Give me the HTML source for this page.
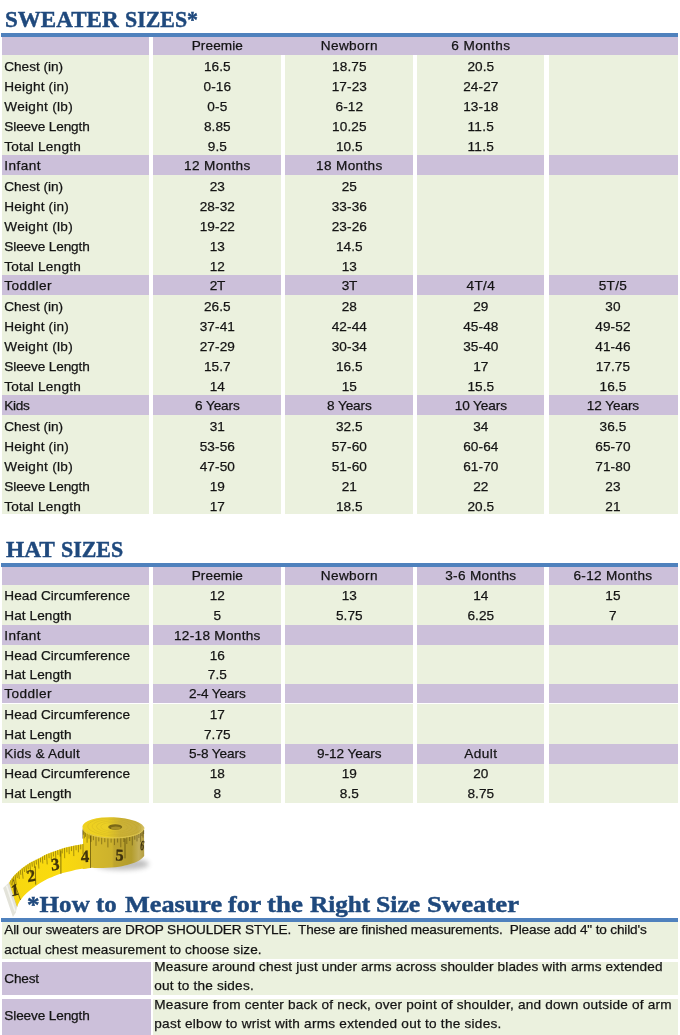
<!DOCTYPE html>
<html><head><meta charset="utf-8"><title>Size chart</title>
<style>
html,body{margin:0;padding:0;background:#fff}
#w{position:absolute;left:0;top:0;width:680px;height:1035px;overflow:hidden;will-change:transform;opacity:.999}
body{width:680px;height:1035px;position:relative;overflow:hidden;font-family:"Liberation Sans",sans-serif;font-size:13.6px;color:#141414;-webkit-text-stroke:0.25px #141414}
.r{position:absolute;left:1.5px;width:676.9px}
.c{position:absolute;text-align:center;white-space:nowrap;margin-left:-1.5px;line-height:16px;height:16px}
.c.l{text-align:left;text-indent:2.8px}
.g{position:absolute;background:#fff}
.bl{position:absolute;background:#4f81bd}
.t{position:absolute;font-family:"Liberation Serif",serif;font-weight:bold;color:#1f497d;-webkit-text-stroke:0.45px #1f497d;white-space:nowrap;line-height:26px;height:26px;transform-origin:0 0}
.p{position:absolute;white-space:nowrap;line-height:16px;height:16px}
</style></head><body><div id="w">
<div id="t1">
<span class="t" style="left:5.22px;top:5.9px;font-size:23.8px;transform:scale(0.9684,1)">SWEATER</span>
<span class="t" style="left:124.95px;top:5.9px;font-size:23.8px;transform:scale(0.9197,1)">SIZES*</span>
</div>
<div class="bl" style="left:1px;top:33px;width:677.4px;height:4px"></div>
<div class="r" style="top:37px;height:18px;background:#ccc0da">
</div>
<div class="r" style="top:55px;height:20px;background:#ebf1de">
<span class="c l" style="left:1.5px;width:147px;top:3.6px;letter-spacing:-0.03px">Chest (in)</span>
<span class="c" style="left:153.1px;width:128.5px;top:3.6px;letter-spacing:0.098px">16.5</span>
<span class="c" style="left:285.6px;width:127.5px;top:3.6px;letter-spacing:0.101px">18.75</span>
<span class="c" style="left:417.1px;width:127.5px;top:3.6px;letter-spacing:0.098px">20.5</span>
</div>
<div class="r" style="top:75px;height:20px;background:#ebf1de">
<span class="c l" style="left:1.5px;width:147px;top:3.6px;letter-spacing:0.177px">Height (in)</span>
<span class="c" style="left:153.1px;width:128.5px;top:3.6px;letter-spacing:0.114px">0-16</span>
<span class="c" style="left:285.6px;width:127.5px;top:3.6px;letter-spacing:0.114px">17-23</span>
<span class="c" style="left:417.1px;width:127.5px;top:3.6px;letter-spacing:0.114px">24-27</span>
</div>
<div class="r" style="top:95px;height:20px;background:#ebf1de">
<span class="c l" style="left:1.5px;width:147px;top:3.6px;letter-spacing:0.293px">Weight (lb)</span>
<span class="c" style="left:153.1px;width:128.5px;top:3.6px;letter-spacing:0.113px">0-5</span>
<span class="c" style="left:285.6px;width:127.5px;top:3.6px;letter-spacing:0.114px">6-12</span>
<span class="c" style="left:417.1px;width:127.5px;top:3.6px;letter-spacing:0.114px">13-18</span>
</div>
<div class="r" style="top:115px;height:20px;background:#ebf1de">
<span class="c l" style="left:1.5px;width:147px;top:3.6px;letter-spacing:-0.121px">Sleeve Length</span>
<span class="c" style="left:153.1px;width:128.5px;top:3.6px;letter-spacing:0.098px">8.85</span>
<span class="c" style="left:285.6px;width:127.5px;top:3.6px;letter-spacing:0.101px">10.25</span>
<span class="c" style="left:417.1px;width:127.5px;top:3.6px;letter-spacing:0.352px">11.5</span>
</div>
<div class="r" style="top:135px;height:20px;background:#ebf1de">
<span class="c l" style="left:1.5px;width:147px;top:3.6px;letter-spacing:0.213px">Total Length</span>
<span class="c" style="left:153.1px;width:128.5px;top:3.6px;letter-spacing:0.092px">9.5</span>
<span class="c" style="left:285.6px;width:127.5px;top:3.6px;letter-spacing:0.098px">10.5</span>
<span class="c" style="left:417.1px;width:127.5px;top:3.6px;letter-spacing:0.352px">11.5</span>
</div>
<div class="r" style="top:155px;height:20px;background:#ccc0da">
<span class="c l" style="left:1.5px;width:147px;top:2.8px;letter-spacing:0.446px">Infant</span>
<span class="c" style="left:153.1px;width:128.5px;top:2.8px;letter-spacing:0.351px">12 Months</span>
<span class="c" style="left:285.6px;width:127.5px;top:2.8px;letter-spacing:0.351px">18 Months</span>
</div>
<div class="r" style="top:175px;height:20px;background:#ebf1de">
<span class="c l" style="left:1.5px;width:147px;top:3.6px;letter-spacing:-0.03px">Chest (in)</span>
<span class="c" style="left:153.1px;width:128.5px;top:3.6px;letter-spacing:0.116px">23</span>
<span class="c" style="left:285.6px;width:127.5px;top:3.6px;letter-spacing:0.116px">25</span>
</div>
<div class="r" style="top:195px;height:20px;background:#ebf1de">
<span class="c l" style="left:1.5px;width:147px;top:3.6px;letter-spacing:0.177px">Height (in)</span>
<span class="c" style="left:153.1px;width:128.5px;top:3.6px;letter-spacing:0.114px">28-32</span>
<span class="c" style="left:285.6px;width:127.5px;top:3.6px;letter-spacing:0.114px">33-36</span>
</div>
<div class="r" style="top:215px;height:20px;background:#ebf1de">
<span class="c l" style="left:1.5px;width:147px;top:3.6px;letter-spacing:0.293px">Weight (lb)</span>
<span class="c" style="left:153.1px;width:128.5px;top:3.6px;letter-spacing:0.114px">19-22</span>
<span class="c" style="left:285.6px;width:127.5px;top:3.6px;letter-spacing:0.114px">23-26</span>
</div>
<div class="r" style="top:235px;height:20px;background:#ebf1de">
<span class="c l" style="left:1.5px;width:147px;top:3.6px;letter-spacing:-0.121px">Sleeve Length</span>
<span class="c" style="left:153.1px;width:128.5px;top:3.6px;letter-spacing:0.116px">13</span>
<span class="c" style="left:285.6px;width:127.5px;top:3.6px;letter-spacing:0.098px">14.5</span>
</div>
<div class="r" style="top:255px;height:20px;background:#ebf1de">
<span class="c l" style="left:1.5px;width:147px;top:3.6px;letter-spacing:0.213px">Total Length</span>
<span class="c" style="left:153.1px;width:128.5px;top:3.6px;letter-spacing:0.116px">12</span>
<span class="c" style="left:285.6px;width:127.5px;top:3.6px;letter-spacing:0.116px">13</span>
</div>
<div class="r" style="top:275px;height:20px;background:#ccc0da">
<span class="c l" style="left:1.5px;width:147px;top:2.8px;letter-spacing:0.428px">Toddler</span>
<span class="c" style="left:153.1px;width:128.5px;top:2.8px;letter-spacing:-0.407px">2T</span>
<span class="c" style="left:285.6px;width:127.5px;top:2.8px;letter-spacing:-0.407px">3T</span>
<span class="c" style="left:417.1px;width:127.5px;top:2.8px;letter-spacing:0.347px">4T/4</span>
<span class="c" style="left:548px;width:129.9px;top:2.8px;letter-spacing:0.347px">5T/5</span>
</div>
<div class="r" style="top:295px;height:20px;background:#ebf1de">
<span class="c l" style="left:1.5px;width:147px;top:3.6px;letter-spacing:-0.03px">Chest (in)</span>
<span class="c" style="left:153.1px;width:128.5px;top:3.6px;letter-spacing:0.098px">26.5</span>
<span class="c" style="left:285.6px;width:127.5px;top:3.6px;letter-spacing:0.116px">28</span>
<span class="c" style="left:417.1px;width:127.5px;top:3.6px;letter-spacing:0.116px">29</span>
<span class="c" style="left:548px;width:129.9px;top:3.6px;letter-spacing:0.116px">30</span>
</div>
<div class="r" style="top:315px;height:20px;background:#ebf1de">
<span class="c l" style="left:1.5px;width:147px;top:3.6px;letter-spacing:0.177px">Height (in)</span>
<span class="c" style="left:153.1px;width:128.5px;top:3.6px;letter-spacing:0.114px">37-41</span>
<span class="c" style="left:285.6px;width:127.5px;top:3.6px;letter-spacing:0.114px">42-44</span>
<span class="c" style="left:417.1px;width:127.5px;top:3.6px;letter-spacing:0.114px">45-48</span>
<span class="c" style="left:548px;width:129.9px;top:3.6px;letter-spacing:0.114px">49-52</span>
</div>
<div class="r" style="top:335px;height:20px;background:#ebf1de">
<span class="c l" style="left:1.5px;width:147px;top:3.6px;letter-spacing:0.293px">Weight (lb)</span>
<span class="c" style="left:153.1px;width:128.5px;top:3.6px;letter-spacing:0.114px">27-29</span>
<span class="c" style="left:285.6px;width:127.5px;top:3.6px;letter-spacing:0.114px">30-34</span>
<span class="c" style="left:417.1px;width:127.5px;top:3.6px;letter-spacing:0.114px">35-40</span>
<span class="c" style="left:548px;width:129.9px;top:3.6px;letter-spacing:0.114px">41-46</span>
</div>
<div class="r" style="top:355px;height:20px;background:#ebf1de">
<span class="c l" style="left:1.5px;width:147px;top:3.6px;letter-spacing:-0.121px">Sleeve Length</span>
<span class="c" style="left:153.1px;width:128.5px;top:3.6px;letter-spacing:0.098px">15.7</span>
<span class="c" style="left:285.6px;width:127.5px;top:3.6px;letter-spacing:0.098px">16.5</span>
<span class="c" style="left:417.1px;width:127.5px;top:3.6px;letter-spacing:0.116px">17</span>
<span class="c" style="left:548px;width:129.9px;top:3.6px;letter-spacing:0.101px">17.75</span>
</div>
<div class="r" style="top:375px;height:20px;background:#ebf1de">
<span class="c l" style="left:1.5px;width:147px;top:3.6px;letter-spacing:0.213px">Total Length</span>
<span class="c" style="left:153.1px;width:128.5px;top:3.6px;letter-spacing:0.116px">14</span>
<span class="c" style="left:285.6px;width:127.5px;top:3.6px;letter-spacing:0.116px">15</span>
<span class="c" style="left:417.1px;width:127.5px;top:3.6px;letter-spacing:0.098px">15.5</span>
<span class="c" style="left:548px;width:129.9px;top:3.6px;letter-spacing:0.098px">16.5</span>
</div>
<div class="r" style="top:395px;height:20px;background:#ccc0da">
<span class="c l" style="left:1.5px;width:147px;top:2.8px;letter-spacing:-0.305px">Kids</span>
<span class="c" style="left:153.1px;width:128.5px;top:2.8px;letter-spacing:-0.124px">6 Years</span>
<span class="c" style="left:285.6px;width:127.5px;top:2.8px;letter-spacing:-0.124px">8 Years</span>
<span class="c" style="left:417.1px;width:127.5px;top:2.8px;letter-spacing:-0.094px">10 Years</span>
<span class="c" style="left:548px;width:129.9px;top:2.8px;letter-spacing:-0.094px">12 Years</span>
</div>
<div class="r" style="top:415px;height:20px;background:#ebf1de">
<span class="c l" style="left:1.5px;width:147px;top:3.6px;letter-spacing:-0.03px">Chest (in)</span>
<span class="c" style="left:153.1px;width:128.5px;top:3.6px;letter-spacing:0.116px">31</span>
<span class="c" style="left:285.6px;width:127.5px;top:3.6px;letter-spacing:0.098px">32.5</span>
<span class="c" style="left:417.1px;width:127.5px;top:3.6px;letter-spacing:0.116px">34</span>
<span class="c" style="left:548px;width:129.9px;top:3.6px;letter-spacing:0.098px">36.5</span>
</div>
<div class="r" style="top:435px;height:20px;background:#ebf1de">
<span class="c l" style="left:1.5px;width:147px;top:3.6px;letter-spacing:0.177px">Height (in)</span>
<span class="c" style="left:153.1px;width:128.5px;top:3.6px;letter-spacing:0.114px">53-56</span>
<span class="c" style="left:285.6px;width:127.5px;top:3.6px;letter-spacing:0.114px">57-60</span>
<span class="c" style="left:417.1px;width:127.5px;top:3.6px;letter-spacing:0.114px">60-64</span>
<span class="c" style="left:548px;width:129.9px;top:3.6px;letter-spacing:0.114px">65-70</span>
</div>
<div class="r" style="top:455px;height:20px;background:#ebf1de">
<span class="c l" style="left:1.5px;width:147px;top:3.6px;letter-spacing:0.293px">Weight (lb)</span>
<span class="c" style="left:153.1px;width:128.5px;top:3.6px;letter-spacing:0.114px">47-50</span>
<span class="c" style="left:285.6px;width:127.5px;top:3.6px;letter-spacing:0.114px">51-60</span>
<span class="c" style="left:417.1px;width:127.5px;top:3.6px;letter-spacing:0.114px">61-70</span>
<span class="c" style="left:548px;width:129.9px;top:3.6px;letter-spacing:0.114px">71-80</span>
</div>
<div class="r" style="top:475px;height:20px;background:#ebf1de">
<span class="c l" style="left:1.5px;width:147px;top:3.6px;letter-spacing:-0.121px">Sleeve Length</span>
<span class="c" style="left:153.1px;width:128.5px;top:3.6px;letter-spacing:0.116px">19</span>
<span class="c" style="left:285.6px;width:127.5px;top:3.6px;letter-spacing:0.116px">21</span>
<span class="c" style="left:417.1px;width:127.5px;top:3.6px;letter-spacing:0.116px">22</span>
<span class="c" style="left:548px;width:129.9px;top:3.6px;letter-spacing:0.116px">23</span>
</div>
<div class="r" style="top:495px;height:19px;background:#ebf1de">
<span class="c l" style="left:1.5px;width:147px;top:3.6px;letter-spacing:0.213px">Total Length</span>
<span class="c" style="left:153.1px;width:128.5px;top:3.6px;letter-spacing:0.116px">17</span>
<span class="c" style="left:285.6px;width:127.5px;top:3.6px;letter-spacing:0.098px">18.5</span>
<span class="c" style="left:417.1px;width:127.5px;top:3.6px;letter-spacing:0.098px">20.5</span>
<span class="c" style="left:548px;width:129.9px;top:3.6px;letter-spacing:0.116px">21</span>
</div>
<div class="g" style="left:148.5px;width:4px;top:37px;height:477px"></div>
<div class="g" style="left:281px;width:4px;top:37px;height:477px"></div>
<div class="g" style="left:412.5px;width:4px;top:37px;height:477px"></div>
<div class="g" style="left:544px;width:4.5px;top:37px;height:477px"></div>
<div class="r" style="top:37px;height:18px;left:152.5px;width:525.9px;background:#ccc0da"></div>
<div class="r" style="top:37px;height:18px;background:none">
<span class="c" style="left:153.1px;width:128.5px;top:0.8px;letter-spacing:0.097px">Preemie</span>
<span class="c" style="left:285.6px;width:127.5px;top:0.8px;letter-spacing:0.419px">Newborn</span>
<span class="c" style="left:417.1px;width:127.5px;top:0.8px;letter-spacing:0.38px">6 Months</span>
</div>
<div id="t2">
<span class="t" style="left:6.21px;top:535.9px;font-size:23.8px;transform:scale(0.9812,1)">HAT</span>
<span class="t" style="left:60.95px;top:535.9px;font-size:23.8px;transform:scale(0.9218,1)">SIZES</span>
</div>
<div class="bl" style="left:1px;top:563px;width:677.4px;height:4px"></div>
<div class="r" style="top:566.7px;height:18.6px;background:#ccc0da">
<span class="c" style="left:153.1px;width:128.5px;top:1.4px;letter-spacing:0.097px">Preemie</span>
<span class="c" style="left:285.6px;width:127.5px;top:1.4px;letter-spacing:0.419px">Newborn</span>
<span class="c" style="left:417.1px;width:127.5px;top:1.4px;letter-spacing:0.327px">3-6 Months</span>
<span class="c" style="left:548px;width:129.9px;top:1.4px;letter-spacing:0.309px">6-12 Months</span>
</div>
<div class="r" style="top:585.3px;height:20px;background:#ebf1de">
<span class="c l" style="left:1.5px;width:147px;top:2.8px;letter-spacing:0.063px">Head Circumference</span>
<span class="c" style="left:153.1px;width:128.5px;top:2.8px;letter-spacing:0.116px">12</span>
<span class="c" style="left:285.6px;width:127.5px;top:2.8px;letter-spacing:0.116px">13</span>
<span class="c" style="left:417.1px;width:127.5px;top:2.8px;letter-spacing:0.116px">14</span>
<span class="c" style="left:548px;width:129.9px;top:2.8px;letter-spacing:0.116px">15</span>
</div>
<div class="r" style="top:605.3px;height:20.1px;background:#ebf1de">
<span class="c l" style="left:1.5px;width:147px;top:2.9px;letter-spacing:0.071px">Hat Length</span>
<span class="c" style="left:153.1px;width:128.5px;top:2.9px;letter-spacing:0.116px">5</span>
<span class="c" style="left:285.6px;width:127.5px;top:2.9px;letter-spacing:0.098px">5.75</span>
<span class="c" style="left:417.1px;width:127.5px;top:2.9px;letter-spacing:0.098px">6.25</span>
<span class="c" style="left:548px;width:129.9px;top:2.9px;letter-spacing:0.116px">7</span>
</div>
<div class="r" style="top:625.4px;height:19.6px;background:#ccc0da">
<span class="c l" style="left:1.5px;width:147px;top:2.4px;letter-spacing:0.446px">Infant</span>
<span class="c" style="left:153.1px;width:128.5px;top:2.4px;letter-spacing:0.293px">12-18 Months</span>
</div>
<div class="r" style="top:645px;height:19.7px;background:#ebf1de">
<span class="c l" style="left:1.5px;width:147px;top:2.5px;letter-spacing:0.063px">Head Circumference</span>
<span class="c" style="left:153.1px;width:128.5px;top:2.5px;letter-spacing:0.116px">16</span>
</div>
<div class="r" style="top:664.7px;height:19.7px;background:#ebf1de">
<span class="c l" style="left:1.5px;width:147px;top:2.5px;letter-spacing:0.071px">Hat Length</span>
<span class="c" style="left:153.1px;width:128.5px;top:2.5px;letter-spacing:0.092px">7.5</span>
</div>
<div class="r" style="top:684.4px;height:19.1px;background:#ccc0da">
<span class="c l" style="left:1.5px;width:147px;top:1.9px;letter-spacing:0.428px">Toddler</span>
<span class="c" style="left:153.1px;width:128.5px;top:1.9px;letter-spacing:-0.072px">2-4 Years</span>
</div>
<div class="r" style="top:703.5px;height:20.2px;background:#ebf1de">
<span class="c l" style="left:1.5px;width:147px;top:3px;letter-spacing:0.063px">Head Circumference</span>
<span class="c" style="left:153.1px;width:128.5px;top:3px;letter-spacing:0.116px">17</span>
</div>
<div class="r" style="top:723.7px;height:20.3px;background:#ebf1de">
<span class="c l" style="left:1.5px;width:147px;top:3.1px;letter-spacing:0.071px">Hat Length</span>
<span class="c" style="left:153.1px;width:128.5px;top:3.1px;letter-spacing:0.098px">7.75</span>
</div>
<div class="r" style="top:744px;height:19.5px;background:#ccc0da">
<span class="c l" style="left:1.5px;width:147px;top:2.3px;letter-spacing:0.195px">Kids &amp; Adult</span>
<span class="c" style="left:153.1px;width:128.5px;top:2.3px;letter-spacing:-0.072px">5-8 Years</span>
<span class="c" style="left:285.6px;width:127.5px;top:2.3px;letter-spacing:-0.053px">9-12 Years</span>
<span class="c" style="left:417.1px;width:127.5px;top:2.3px;letter-spacing:0.45px">Adult</span>
</div>
<div class="r" style="top:763.5px;height:19.8px;background:#ebf1de">
<span class="c l" style="left:1.5px;width:147px;top:2.6px;letter-spacing:0.063px">Head Circumference</span>
<span class="c" style="left:153.1px;width:128.5px;top:2.6px;letter-spacing:0.116px">18</span>
<span class="c" style="left:285.6px;width:127.5px;top:2.6px;letter-spacing:0.116px">19</span>
<span class="c" style="left:417.1px;width:127.5px;top:2.6px;letter-spacing:0.116px">20</span>
</div>
<div class="r" style="top:783.3px;height:19.9px;background:#ebf1de">
<span class="c l" style="left:1.5px;width:147px;top:2.7px;letter-spacing:0.071px">Hat Length</span>
<span class="c" style="left:153.1px;width:128.5px;top:2.7px;letter-spacing:0.116px">8</span>
<span class="c" style="left:285.6px;width:127.5px;top:2.7px;letter-spacing:0.092px">8.5</span>
<span class="c" style="left:417.1px;width:127.5px;top:2.7px;letter-spacing:0.098px">8.75</span>
</div>
<div class="g" style="left:148.5px;width:4px;top:566.7px;height:236.5px"></div>
<div class="g" style="left:281px;width:4px;top:566.7px;height:236.5px"></div>
<div class="g" style="left:412.5px;width:4px;top:566.7px;height:236.5px"></div>
<div class="g" style="left:544px;width:4.5px;top:566.7px;height:236.5px"></div>
<svg style="position:absolute;left:0;top:805px" width="170" height="120" viewBox="0 805 170 120">
<defs><linearGradient id="gs" x1="0" y1="0" x2="1" y2="0"><stop offset="0" stop-color="#f7d710"/><stop offset=".6" stop-color="#fadb0e"/><stop offset="1" stop-color="#f2d016"/></linearGradient><linearGradient id="gf" gradientUnits="userSpaceOnUse" x1="83" y1="0" x2="145" y2="0"><stop offset="0" stop-color="#d8bc2c"/><stop offset=".47" stop-color="#cdb22c"/><stop offset=".5" stop-color="#bfa52d"/><stop offset=".78" stop-color="#b39d2d"/><stop offset=".9" stop-color="#c4b05a"/><stop offset="1" stop-color="#b09a3c"/></linearGradient><linearGradient id="gt" x1="0" y1="0" x2="1" y2="0"><stop offset="0" stop-color="#f0d21e"/><stop offset=".4" stop-color="#ebcf25"/><stop offset=".62" stop-color="#cdb236"/><stop offset=".9" stop-color="#c6ad3c"/><stop offset="1" stop-color="#d2bf6a"/></linearGradient><filter id="bl" x="-30%" y="-60%" width="160%" height="220%"><feGaussianBlur stdDeviation="2.6"/></filter></defs>
<ellipse cx="122" cy="864" rx="27" ry="6" fill="#8a8a8a" fill-opacity=".55" filter="url(#bl)"/>
<path d="M3.1,888 L9.3,882.2 L17.2,906.5 L15.8,912.5 L12.9,917 Z" fill="#e3e3da"/>
<path d="M6.5,885.5 L15.2,911.5" stroke="#f4f4ee" stroke-width="1.6" fill="none"/>
<path d="M9.3,882.2 L17.2,906.5" stroke="#cbb64a" stroke-width=".8" fill="none"/>
<path d="M9.3,882.2C10.1,881.1 12.1,877.8 14.1,875.6C16.1,873.4 18.6,871.1 21.2,869.0C23.8,866.9 26.9,864.6 30.0,862.8C33.1,860.9 37.2,859.2 39.7,857.9C42.2,856.6 42.6,856.0 45.0,854.9C47.4,853.8 50.9,852.6 53.8,851.5C56.7,850.4 59.6,849.3 62.6,848.4C65.5,847.5 68.1,846.9 71.5,846.2C74.9,845.5 81.1,844.4 83.0,844.0L90.9,867.8C89.1,868.0 83.5,868.6 80.3,869.1C77.1,869.6 74.5,870.2 71.5,870.9C68.5,871.6 65.5,872.2 62.6,873.1C59.6,874.0 56.7,875.0 53.8,876.2C50.9,877.4 48.1,878.5 45.0,880.2C41.9,881.9 38.4,884.0 35.3,886.2C32.2,888.4 29.0,890.9 26.5,893.2C24.0,895.6 21.9,898.1 20.3,900.3C18.8,902.5 17.7,905.5 17.2,906.5Z" fill="url(#gs)"/>
<path d="M83,827.6 L83,844 L90.9,867.8C92.9,867.8 98.3,868.2 103.0,868.0C107.7,867.8 114.6,867.3 119.0,866.7C123.4,866.1 126.2,865.3 129.5,864.3C132.8,863.3 136.4,862.2 138.8,860.8C141.2,859.4 143.3,856.8 144.2,856.0L144,827.6 A30.9,10.4 0 0 1 83,827.6 Z" fill="url(#gf)"/>
<path d="M83,829 L83,844 L83,869 L90.5,868 L90.5,835.6 Z" fill="#efcf1a"/>
<ellipse cx="113.3" cy="827.6" rx="30.9" ry="10.4" fill="url(#gt)" transform="rotate(2 113.3 827.6)"/>
<ellipse cx="114.3" cy="827.0" rx="26.6" ry="8.9" fill="none" stroke="#b89c22" stroke-opacity="0.35" stroke-width=".7" transform="rotate(2 113.3 827.6)"/>
<ellipse cx="114.3" cy="827.0" rx="22.2" ry="7.5" fill="none" stroke="#b89c22" stroke-opacity="0.3" stroke-width=".7" transform="rotate(2 113.3 827.6)"/>
<ellipse cx="114.3" cy="827.0" rx="17.9" ry="6.0" fill="none" stroke="#b89c22" stroke-opacity="0.3" stroke-width=".7" transform="rotate(2 113.3 827.6)"/>
<ellipse cx="114.3" cy="827.0" rx="13.6" ry="4.6" fill="none" stroke="#b89c22" stroke-opacity="0.25" stroke-width=".7" transform="rotate(2 113.3 827.6)"/>
<ellipse cx="115.2" cy="827" rx="7" ry="2.8" fill="#7a6818"/>
<ellipse cx="115.8" cy="827.9" rx="4.8" ry="1.5" fill="#a89026"/>
<path d="M82.4,827.6 A30.9,10.4 0 0 0 144.2,827.6" fill="none" stroke="#ead35a" stroke-width=".8" stroke-opacity=".8"/>
<path d="M10.7,880.3L11.4,885.3M12.1,878.4L13.0,885.9M13.5,876.5L14.1,881.4M15.1,874.7L16.3,885.2M16.8,873.1L17.3,878.1M18.5,871.5L19.3,878.9M20.3,869.9L20.8,874.8M22.1,868.4L23.1,878.7M24.0,867.0L24.5,871.9M26.0,865.6L26.6,873.0M27.9,864.3L28.3,869.2M29.8,862.9L30.7,873.2M31.9,861.8L32.3,866.7M34.0,860.8L34.6,868.0M36.1,859.7L36.5,864.5M38.3,858.6L38.9,868.6M40.4,857.5L40.6,862.3M42.4,856.4L42.8,863.5M44.5,855.2L44.7,860.0M46.6,854.3L47.2,864.4M48.9,853.4L49.1,858.2M51.1,852.6L51.4,859.7M53.3,851.7L53.5,856.5M55.5,850.9L55.9,861.0M57.7,850.1L57.9,854.9M60.0,849.3L60.2,856.6M62.2,848.5L62.3,853.4M64.5,847.9L64.7,858.2M66.8,847.4L66.9,852.3M69.1,846.8L69.2,854.1M71.4,846.2L71.5,851.1M73.7,845.8L73.8,856.1M76.0,845.3L76.1,850.2M78.4,844.9L78.4,852.3M80.7,844.4L80.7,849.4M83.0,844.0L83.0,854.4" stroke="#5a4a08" stroke-width=".7" stroke-opacity=".75" fill="none"/>
<path d="M82.7,829.6l0,9M83.3,830.7l0,4M84.3,831.8l0,6.5M85.5,832.8l0,4M87.1,833.7l0,9M89.0,834.6l0,4M91.1,835.4l0,6.5M93.4,836.2l0,4M96.0,836.8l0,9M98.8,837.4l0,4M101.7,837.8l0,6.5M104.8,838.2l0,4M107.9,838.4l0,9M111.1,838.6l0,4M114.4,838.6l0,6.5M117.6,838.5l0,4M120.8,838.3l0,9M123.9,838.0l0,4M126.8,837.5l0,6.5M129.7,837.0l0,4M132.3,836.4l0,9M134.8,835.7l0,4M137.0,834.9l0,6.5M138.9,834.0l0,4M140.6,833.1l0,9M141.9,832.1l0,4M143.0,831.1l0,6.5M143.7,830.0l0,4" stroke="#4a3c08" stroke-width=".7" stroke-opacity=".7" fill="none"/>
<path d="M13.2,879.5L20.5,900 M35.3,866.3L35.7,884.6 M60.9,850.6L60.9,873.8 M90.5,835.6L90.5,868 M125,838.6L125,858.4" stroke="#4a3c08" stroke-width=".8" stroke-opacity=".8" fill="none"/>
<text transform="translate(15.2 895.4) rotate(-14) skewX(-10) scale(1 1)" font-family="Liberation Serif,serif" font-weight="bold" font-size="16" text-anchor="middle" fill="#33280a" stroke="#33280a" stroke-width=".3" fill-opacity=".92">1</text>
<text transform="translate(31.8 881.4) rotate(-12) skewX(-4) scale(1 1)" font-family="Liberation Serif,serif" font-weight="bold" font-size="17" text-anchor="middle" fill="#33280a" stroke="#33280a" stroke-width=".3" fill-opacity=".92">2</text>
<text transform="translate(55.6 870) rotate(-8) skewX(-3) scale(1 1)" font-family="Liberation Serif,serif" font-weight="bold" font-size="17" text-anchor="middle" fill="#33280a" stroke="#33280a" stroke-width=".3" fill-opacity=".92">3</text>
<text transform="translate(85.2 862) rotate(-3) skewX(0) scale(1 1)" font-family="Liberation Serif,serif" font-weight="bold" font-size="17" text-anchor="middle" fill="#33280a" stroke="#33280a" stroke-width=".3" fill-opacity=".92">4</text>
<text transform="translate(119.3 860.6) rotate(2) skewX(0) scale(1 1)" font-family="Liberation Serif,serif" font-weight="bold" font-size="16.5" text-anchor="middle" fill="#33280a" stroke="#33280a" stroke-width=".3" fill-opacity=".92">5</text>
<text transform="translate(141.6 850) rotate(8) skewX(0) scale(0.55 1)" font-family="Liberation Serif,serif" font-weight="bold" font-size="14" text-anchor="middle" fill="#33280a" stroke="#33280a" stroke-width=".3" fill-opacity=".92">6</text>
</svg>
<div id="t3">
<span class="t" style="left:27.37px;top:890.9px;font-size:23.8px;transform:scale(1.0549,1)">*How</span>
<span class="t" style="left:95.87px;top:890.9px;font-size:23.8px;transform:scale(1.0468,1)">to</span>
<span class="t" style="left:124.54px;top:890.9px;font-size:23.8px;transform:scale(1.1021,1)">Measure</span>
<span class="t" style="left:227.84px;top:890.9px;font-size:23.8px;transform:scale(1.0962,1)">for</span>
<span class="t" style="left:266.82px;top:890.9px;font-size:23.8px;transform:scale(1.1299,1)">the</span>
<span class="t" style="left:309.86px;top:890.9px;font-size:23.8px;transform:scale(1.06,1)">Right</span>
<span class="t" style="left:375.85px;top:890.9px;font-size:23.8px;transform:scale(1.0808,1)">Size</span>
<span class="t" style="left:426.83px;top:890.9px;font-size:23.8px;transform:scale(1.1234,1)">Sweater</span>
</div>
<div class="bl" style="left:1px;top:918px;width:677.4px;height:4px"></div>
<div class="r" style="top:922px;height:36.8px;background:#ebf1de"></div>
<div class="p" id="p1" style="left:4.3px;top:921.8px;letter-spacing:-0.15px">All our sweaters are DROP SHOULDER STYLE.&nbsp; These are finished measurements.&nbsp; Please add 4" to child's</div>
<div class="p" id="p2" style="left:4.3px;top:941.8px;letter-spacing:0.087px">actual chest measurement to choose size.</div>
<div class="r" style="top:962px;height:33px;background:#ebf1de"></div>
<div class="r" style="top:962px;height:33px;width:149.3px;background:#ccc0da"></div>
<div class="r" style="top:998.5px;height:37px;background:#ebf1de"></div>
<div class="r" style="top:998.5px;height:37px;width:149.3px;background:#ccc0da"></div>
<div class="g" style="left:150.8px;width:2px;top:961px;height:80px"></div>
<div class="p" id="l1" style="left:4.3px;top:970.7px;letter-spacing:-0.188px">Chest</div>
<div class="p" id="l2" style="left:4.3px;top:1008.0px;letter-spacing:-0.121px">Sleeve Length</div>
<div class="p" id="m1" style="left:154.3px;top:958.8px;letter-spacing:0.133px">Measure around chest just under arms across shoulder blades with arms extended</div>
<div class="p" id="m2" style="left:154.3px;top:977.7px;letter-spacing:0.212px">out to the sides.</div>
<div class="p" id="m3" style="left:154.3px;top:997.0px;letter-spacing:0.224px">Measure from center back of neck, over point of shoulder, and down outside of arm</div>
<div class="p" id="m4" style="left:154.3px;top:1016.2px;letter-spacing:0.251px">past elbow to wrist with arms extended out to the sides.</div>
</div></body></html>
